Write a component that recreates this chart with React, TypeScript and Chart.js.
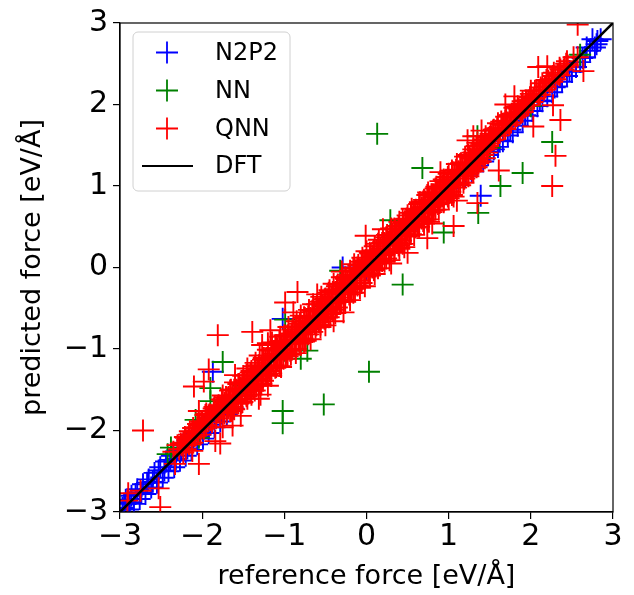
import React, { useEffect, useRef } from "react";
import { Chart, registerables } from "chart.js";

Chart.register(...registerables);

// ---------- data (reference force, predicted force) in eV/Å ----------
const axisRange = [-3, 3];
const tickValues = [-3, -2, -1, 0, 1, 2, 3];
const seriesNames = ["N2P2", "NN", "QNN", "DFT"];
const seriesColors = ["#0000ff", "#008000", "#ff0000", "#000000"];

const n2p2Points: [number, number][] = [
  [-2.97, -2.95], [-2.93, -2.85], [-2.9, -2.97], [-2.86, -2.8], [-2.83, -2.9], [-2.79, -2.72],
  [-2.76, -2.84], [-2.72, -2.66], [-2.69, -2.78], [-2.65, -2.6], [-2.62, -2.7], [-2.58, -2.52],
  [-2.55, -2.64], [-2.51, -2.45], [-2.48, -2.58], [-2.44, -2.38], [-2.41, -2.5], [-2.37, -2.31],
  [-2.34, -2.45], [-2.3, -2.24], [-2.27, -2.37], [-2.23, -2.17], [-2.2, -2.31], [-2.16, -2.1],
  [-2.13, -2.24], [-2.09, -2.03], [-2.06, -2.17], [-2.02, -1.97], [-1.99, -2.1], [-1.95, -1.9],
  [-1.92, -2.03], [-1.88, -1.84], [-1.85, -1.96], [-1.81, -1.77], [-1.78, -1.89], [-1.74, -1.7],
  [-1.7, -1.8], [-1.66, -1.62], [-1.62, -1.73], [-1.87, -1.28], [-1.02, -0.63], [-0.29, 0.0],
  [-2.95, -2.9], [-2.88, -2.88], [-2.81, -2.78], [-2.74, -2.76], [-2.67, -2.64], [-2.6, -2.63],
  [-2.53, -2.49], [-2.46, -2.49], [-2.39, -2.36], [-2.32, -2.35], [-2.25, -2.21], [-2.18, -2.22],
  [-2.11, -2.08], [-2.04, -2.07], [-1.97, -1.95], [-1.9, -1.93], [-1.83, -1.81], [-1.76, -1.79],
  [-1.2, -1.22], [-0.6, -0.62], [0.0, -0.03], [0.6, 0.57], [1.0, 0.97],
  [1.2, 1.12], [1.28, 1.18], [1.35, 1.25], [1.39, 0.88], [1.42, 1.3], [1.48, 1.38],
  [1.55, 1.45], [1.6, 1.48], [1.66, 1.55], [1.72, 1.62], [1.78, 1.66], [1.84, 1.74],
  [1.9, 1.8], [1.96, 1.86], [2.02, 1.92], [2.08, 1.98], [2.14, 2.04], [2.2, 2.1],
  [2.26, 2.15], [2.32, 2.22], [2.38, 2.28], [2.44, 2.35], [2.5, 2.4], [2.55, 2.46],
  [2.6, 2.52], [2.66, 2.58], [2.72, 2.66], [2.78, 2.7], [2.81, 2.78], [2.85, 2.8],
  [2.75, 2.8], [2.68, 2.7], [2.36, 2.35], [1.87, 1.89], [1.62, 1.56], [1.75, 1.69],
  [1.93, 1.87], [2.11, 2.05], [2.29, 2.21], [2.47, 2.41], [2.63, 2.57], [2.8, 2.74],
  [1.4, 1.34], [1.5, 1.42],
];

const nnPoints: [number, number][] = [
  [0.13, 1.64], [0.68, 1.22], [1.9, 1.16], [1.63, 1.0], [2.26, 1.54], [1.36, 0.67],
  [0.94, 0.43], [2.6, 2.61], [1.35, 1.61], [0.44, -0.21], [0.03, -1.28], [-0.52, -1.68],
  [-1.02, -1.76], [-1.02, -1.91], [-0.72, -1.02], [-0.8, -1.12], [-1.75, -1.16], [-1.9, -1.48],
  [-1.9, -1.64], [-2.08, -1.87], [-2.38, -2.21], [-2.04, -2.09], [-0.99, -0.64], [0.29, 0.58],
  [-0.32, -0.04], [-2.42, -2.29], [-1.5, -1.45], [-0.5, -0.48], [0.5, 0.52], [1.5, 1.47],
  [2.0, 1.98], [-1.0, -1.02],
];

const qnnUpper: [number, number][] = [
  [-2.35, -2.26], [-2.3, -2.18], [-2.25, -2.18], [-2.2, -2.09], [-2.15, -2.01], [-2.1, -2.02],
  [-2.05, -1.92], [-2.0, -1.9], [-1.95, -1.79], [-1.9, -1.81], [-1.85, -1.71], [-1.8, -1.69],
  [-1.75, -1.57], [-1.7, -1.6], [-1.65, -1.5], [-1.6, -1.41], [-1.55, -1.43], [-1.5, -1.33],
  [-1.45, -1.24], [-1.4, -1.27], [-1.35, -1.17], [-1.3, -1.08], [-1.25, -1.11], [-1.2, -1.01],
  [-1.15, -0.92], [-1.1, -0.95], [-1.05, -0.85], [-1.0, -0.83], [-0.95, -0.73], [-0.9, -0.76],
  [-0.85, -0.66], [-0.8, -0.59], [-0.75, -0.62], [-0.7, -0.52], [-0.65, -0.45], [-0.6, -0.45],
  [-0.55, -0.36], [-0.5, -0.38], [-0.45, -0.28], [-0.4, -0.2], [-0.35, -0.21], [-0.3, -0.12],
  [-0.25, -0.14], [-0.2, -0.04], [-0.15, 0.04], [-0.1, 0.03], [-0.05, 0.12], [0.0, 0.2],
  [0.05, 0.17], [0.1, 0.26], [0.15, 0.34], [0.2, 0.31], [0.25, 0.4], [0.3, 0.48],
  [0.35, 0.47], [0.4, 0.56], [0.45, 0.55], [0.5, 0.64], [0.55, 0.72], [0.6, 0.71],
  [0.65, 0.8], [0.7, 0.83], [0.75, 0.92], [0.8, 0.9], [0.85, 0.99], [0.9, 1.06],
  [0.95, 1.06], [1.0, 1.15], [1.05, 1.17], [1.1, 1.27], [1.15, 1.28], [1.2, 1.36],
  [1.25, 1.36], [1.3, 1.45], [1.35, 1.53], [1.4, 1.52], [1.45, 1.61], [1.5, 1.6],
  [1.55, 1.69], [1.6, 1.77], [1.65, 1.76], [1.7, 1.85], [1.75, 1.87], [1.8, 1.96],
  [1.85, 1.95], [1.9, 2.04], [1.95, 2.04], [2.0, 2.13], [2.07, 2.17], [2.14, 2.26],
  [2.21, 2.29], [2.28, 2.39], [2.36, 2.43], [2.44, 2.53], [2.52, 2.58],
];

const qnnUpperMid: [number, number][] = [
  [-2.26, -2.16], [-2.21, -2.08], [-2.16, -2.05], [-2.11, -1.97], [-2.06, -1.96], [-2.01, -1.89],
  [-1.96, -1.81], [-1.91, -1.8], [-1.86, -1.73], [-1.81, -1.71], [-1.76, -1.62], [-1.71, -1.59],
  [-1.66, -1.51], [-1.61, -1.5], [-1.56, -1.43], [-1.51, -1.41], [-1.46, -1.32], [-1.41, -1.29],
  [-1.36, -1.21], [-1.31, -1.2], [-1.26, -1.13], [-1.21, -1.11], [-1.16, -1.02], [-1.11, -0.99],
  [-1.06, -0.91], [-1.01, -0.9], [-0.96, -0.83], [-0.91, -0.81], [-0.86, -0.72], [-0.81, -0.69],
  [-0.76, -0.61], [-0.71, -0.6], [-0.66, -0.53], [-0.61, -0.51], [-0.56, -0.42], [-0.51, -0.39],
  [-0.46, -0.31], [-0.41, -0.3], [-0.36, -0.23], [-0.31, -0.21], [-0.26, -0.12], [-0.21, -0.09],
  [-0.16, -0.01], [-0.11, 0.0], [-0.06, 0.07], [-0.01, 0.09], [0.04, 0.18], [0.09, 0.21],
  [0.14, 0.29], [0.19, 0.3], [0.24, 0.37], [0.29, 0.39], [0.34, 0.48], [0.39, 0.51],
  [0.44, 0.59], [0.49, 0.6], [0.54, 0.67], [0.59, 0.69], [0.64, 0.78], [0.69, 0.81],
  [0.74, 0.89], [0.79, 0.9], [0.84, 0.97], [0.89, 0.99], [0.94, 1.08], [0.99, 1.11],
  [1.04, 1.19], [1.09, 1.2], [1.14, 1.27], [1.19, 1.29], [1.24, 1.38], [1.29, 1.41],
  [1.34, 1.49], [1.39, 1.5], [1.44, 1.57], [1.49, 1.59], [1.54, 1.68], [1.59, 1.71],
  [1.64, 1.79], [1.69, 1.8], [1.74, 1.87], [1.79, 1.89], [1.84, 1.98], [1.89, 2.01],
  [1.94, 2.05], [1.99, 2.09], [2.05, 2.17], [2.12, 2.21], [2.19, 2.3], [2.27, 2.35],
  [2.35, 2.45], [2.43, 2.5],
];

const qnnUpperInner: [number, number][] = [
  [-2.28, -2.23], [-2.23, -2.15], [-2.18, -2.12], [-2.13, -2.09], [-2.08, -2.01], [-2.03, -1.94],
  [-1.98, -1.93], [-1.93, -1.85], [-1.88, -1.82], [-1.83, -1.74], [-1.78, -1.73], [-1.73, -1.66],
  [-1.68, -1.59], [-1.63, -1.57], [-1.58, -1.5], [-1.53, -1.48], [-1.48, -1.39], [-1.43, -1.36],
  [-1.38, -1.33], [-1.33, -1.25], [-1.28, -1.22], [-1.23, -1.14], [-1.18, -1.13], [-1.13, -1.06],
  [-1.08, -0.99], [-1.03, -0.97], [-0.98, -0.9], [-0.93, -0.88], [-0.88, -0.79], [-0.83, -0.76],
  [-0.78, -0.73], [-0.73, -0.65], [-0.68, -0.62], [-0.63, -0.54], [-0.58, -0.53], [-0.53, -0.46],
  [-0.48, -0.39], [-0.43, -0.37], [-0.38, -0.3], [-0.33, -0.28], [-0.28, -0.19], [-0.23, -0.16],
  [-0.18, -0.13], [-0.13, -0.05], [-0.08, -0.02], [-0.03, 0.06], [0.02, 0.07], [0.07, 0.14],
  [0.12, 0.21], [0.17, 0.23], [0.22, 0.3], [0.27, 0.32], [0.32, 0.41], [0.37, 0.44],
  [0.42, 0.47], [0.47, 0.55], [0.52, 0.58], [0.57, 0.66], [0.62, 0.67], [0.67, 0.74],
  [0.72, 0.81], [0.77, 0.83], [0.82, 0.9], [0.87, 0.92], [0.92, 1.01], [0.97, 1.04],
  [1.02, 1.07], [1.07, 1.15], [1.12, 1.18], [1.17, 1.26], [1.22, 1.27], [1.27, 1.34],
  [1.32, 1.41], [1.37, 1.43], [1.42, 1.5], [1.47, 1.52], [1.52, 1.61], [1.57, 1.64],
  [1.62, 1.67], [1.67, 1.75], [1.72, 1.78], [1.77, 1.86], [1.82, 1.87], [1.87, 1.94],
  [1.92, 1.98], [1.97, 2.05], [2.03, 2.08], [2.1, 2.17], [2.17, 2.22], [2.25, 2.31],
  [2.33, 2.37], [2.41, 2.46],
];

const qnnMiddle: [number, number][] = [
  [-2.2, -2.18], [-2.12, -2.15], [-2.05, -2.01], [-1.98, -1.98], [-1.9, -1.87], [-1.83, -1.85],
  [-1.76, -1.71], [-1.69, -1.68], [-1.62, -1.66], [-1.55, -1.52], [-1.48, -1.49], [-1.41, -1.37],
  [-1.34, -1.37], [-1.27, -1.25], [-1.2, -1.24], [-1.13, -1.1], [-1.06, -1.08], [-0.99, -0.94],
  [-0.92, -0.93], [-0.85, -0.82], [-0.78, -0.82], [-0.71, -0.69], [-0.64, -0.67], [-0.57, -0.53],
  [-0.5, -0.52], [-0.43, -0.4], [-0.36, -0.4], [-0.29, -0.28], [-0.22, -0.25], [-0.15, -0.11],
  [-0.08, -0.1], [-0.01, 0.02], [0.06, 0.02], [0.13, 0.15], [0.2, 0.17], [0.27, 0.31],
  [0.34, 0.33], [0.41, 0.44], [0.48, 0.44], [0.55, 0.57], [0.62, 0.59], [0.69, 0.73],
  [0.76, 0.74], [0.83, 0.86], [0.9, 0.86], [0.97, 0.98], [1.04, 1.01], [1.11, 1.15],
  [1.18, 1.16], [1.25, 1.28], [1.32, 1.31], [1.39, 1.43], [1.46, 1.46], [1.53, 1.56],
  [1.6, 1.62], [1.67, 1.71], [1.74, 1.75], [1.81, 1.84], [1.88, 1.9], [1.95, 1.99],
  [2.02, 2.03], [2.09, 2.12], [2.16, 2.18], [2.23, 2.27], [2.3, 2.31], [2.4, 2.43],
];

const qnnMiddle2: [number, number][] = [
  [-2.16, -2.17], [-2.09, -2.07], [-2.02, -2.05], [-1.95, -1.94], [-1.88, -1.9], [-1.81, -1.78],
  [-1.74, -1.75], [-1.67, -1.65], [-1.6, -1.63], [-1.53, -1.52], [-1.46, -1.48], [-1.39, -1.36],
  [-1.32, -1.33], [-1.25, -1.23], [-1.18, -1.21], [-1.11, -1.1], [-1.04, -1.06], [-0.97, -0.94],
  [-0.9, -0.91], [-0.83, -0.81], [-0.76, -0.79], [-0.69, -0.68], [-0.62, -0.64], [-0.55, -0.52],
  [-0.48, -0.49], [-0.41, -0.39], [-0.34, -0.37], [-0.27, -0.26], [-0.2, -0.22], [-0.13, -0.1],
  [-0.06, -0.07], [0.01, 0.03], [0.08, 0.05], [0.15, 0.16], [0.22, 0.2], [0.29, 0.32],
  [0.36, 0.35], [0.43, 0.45], [0.5, 0.47], [0.57, 0.58], [0.64, 0.62], [0.71, 0.74],
  [0.78, 0.77], [0.85, 0.87], [0.92, 0.89], [0.99, 1.0], [1.06, 1.04], [1.13, 1.16],
  [1.2, 1.19], [1.27, 1.29], [1.34, 1.33], [1.41, 1.44], [1.48, 1.49], [1.55, 1.57],
  [1.62, 1.65], [1.69, 1.7], [1.76, 1.78], [1.83, 1.86], [1.9, 1.91], [1.97, 1.99],
  [2.04, 2.07], [2.11, 2.12], [2.18, 2.21], [2.26, 2.28], [2.35, 2.36], [2.45, 2.48],
];

const qnnLowerInner: [number, number][] = [
  [-1.78, -1.82], [-1.73, -1.79], [-1.68, -1.73], [-1.63, -1.71], [-1.58, -1.64], [-1.53, -1.62],
  [-1.48, -1.53], [-1.43, -1.5], [-1.38, -1.47], [-1.33, -1.39], [-1.28, -1.36], [-1.23, -1.28],
  [-1.18, -1.27], [-1.13, -1.2], [-1.08, -1.13], [-1.03, -1.11], [-0.98, -1.04], [-0.93, -1.02],
  [-0.88, -0.93], [-0.83, -0.9], [-0.78, -0.87], [-0.73, -0.79], [-0.68, -0.76], [-0.63, -0.68],
  [-0.58, -0.67], [-0.53, -0.6], [-0.48, -0.53], [-0.43, -0.51], [-0.38, -0.44], [-0.33, -0.42],
  [-0.28, -0.33], [-0.23, -0.3], [-0.18, -0.27], [-0.13, -0.19], [-0.08, -0.16], [-0.03, -0.08],
  [0.02, -0.07], [0.07, 0.0], [0.12, 0.07], [0.17, 0.09], [0.22, 0.16], [0.27, 0.18],
  [0.32, 0.27], [0.37, 0.3], [0.42, 0.33], [0.47, 0.41], [0.52, 0.44], [0.57, 0.52],
  [0.62, 0.53], [0.67, 0.6], [0.72, 0.67], [0.77, 0.69], [0.82, 0.76], [0.87, 0.78],
  [0.92, 0.87], [0.97, 0.9], [1.02, 0.93], [1.07, 1.01], [1.12, 1.04], [1.17, 1.12],
  [1.22, 1.15], [1.27, 1.21], [1.32, 1.27], [1.37, 1.3], [1.42, 1.38], [1.47, 1.41],
];

const qnnLowerMid: [number, number][] = [
  [-1.66, -1.76], [-1.61, -1.74], [-1.56, -1.67], [-1.51, -1.65], [-1.46, -1.58], [-1.41, -1.51],
  [-1.36, -1.51], [-1.31, -1.42], [-1.26, -1.39], [-1.21, -1.31], [-1.16, -1.3], [-1.11, -1.23],
  [-1.06, -1.21], [-1.01, -1.12], [-0.96, -1.09], [-0.91, -1.01], [-0.86, -1.0], [-0.81, -0.93],
  [-0.76, -0.91], [-0.71, -0.82], [-0.66, -0.79], [-0.61, -0.71], [-0.56, -0.7], [-0.51, -0.63],
  [-0.46, -0.61], [-0.41, -0.52], [-0.36, -0.49], [-0.31, -0.41], [-0.26, -0.4], [-0.21, -0.33],
  [-0.16, -0.31], [-0.11, -0.22], [-0.06, -0.19], [-0.01, -0.11], [0.04, -0.1], [0.09, -0.03],
  [0.14, -0.01], [0.19, 0.08], [0.24, 0.11], [0.29, 0.19], [0.34, 0.2], [0.39, 0.27],
  [0.44, 0.29], [0.49, 0.38], [0.54, 0.41], [0.59, 0.49], [0.64, 0.5], [0.69, 0.57],
  [0.74, 0.59], [0.79, 0.68], [0.84, 0.71], [0.89, 0.79], [0.94, 0.8], [0.99, 0.87],
  [1.04, 0.89], [1.09, 0.98], [1.14, 1.01], [1.19, 1.09], [1.24, 1.12], [1.29, 1.19],
  [1.34, 1.23], [1.39, 1.3], [1.44, 1.34],
];

const qnnLower: [number, number][] = [
  [-1.7, -1.78], [-1.64, -1.76], [-1.58, -1.67], [-1.52, -1.66], [-1.46, -1.56], [-1.4, -1.56],
  [-1.34, -1.45], [-1.28, -1.43], [-1.22, -1.31], [-1.16, -1.33], [-1.1, -1.22], [-1.04, -1.22],
  [-0.98, -1.08], [-0.92, -1.07], [-0.86, -1.05], [-0.8, -0.91], [-0.74, -0.9], [-0.68, -0.88],
  [-0.62, -0.74], [-0.56, -0.73], [-0.5, -0.71], [-0.44, -0.57], [-0.38, -0.56], [-0.32, -0.42],
  [-0.26, -0.42], [-0.2, -0.4], [-0.14, -0.26], [-0.08, -0.25], [-0.02, -0.23], [0.04, -0.09],
  [0.1, -0.08], [0.16, 0.06], [0.22, 0.07], [0.28, 0.09], [0.34, 0.22], [0.4, 0.23],
  [0.46, 0.25], [0.52, 0.39], [0.58, 0.4], [0.64, 0.54], [0.7, 0.54], [0.76, 0.56],
  [0.82, 0.7], [0.88, 0.71], [0.94, 0.83], [1.0, 0.85], [1.06, 0.87], [1.12, 1.02],
  [1.18, 1.04], [1.24, 1.15], [1.3, 1.18], [1.36, 1.28],
];

const qnnOutliers: [number, number][] = [
  [-2.72, -2.0], [-1.81, -0.83], [-1.39, -0.79], [-0.84, -0.3], [-0.99, -0.43], [-2.1, -1.46],
  [-1.98, -1.4], [-2.04, -1.76], [-1.75, -1.96], [-1.63, -1.94], [-1.78, -2.16], [-2.04, -2.41],
  [-2.23, -2.27], [-1.53, -1.82], [-1.45, -1.61], [-1.31, -1.61], [-1.27, -0.95], [-1.17, -0.77],
  [-1.92, -1.25], [-1.29, -1.56], [-1.84, -2.13], [-2.33, -2.41], [-2.9, -2.77], [-2.53, -2.71],
  [-2.51, -2.94], [-2.75, -2.74], [-2.91, -2.86], [-2.12, -2.25], [-2.2, -2.23],
  [2.57, 2.98], [2.2, 2.47], [2.09, 2.46], [2.64, 2.41], [1.69, 2.0], [2.0, 2.17],
  [2.27, 1.99], [2.36, 1.81], [2.3, 1.37], [2.26, 1.0], [1.61, 1.19], [1.51, 1.64],
  [2.03, 1.73], [1.3, 1.61], [1.35, 0.79], [1.06, 0.51], [1.23, 1.56], [2.57, 2.58],
  [-0.01, 0.39], [-0.89, -0.55], [0.74, 0.36], [-0.28, -0.55], [0.5, 0.18],
  [-1.6, -1.32], [-1.2, -0.93], [-0.6, -0.33], [0.2, 0.47], [0.9, 1.17], [1.4, 1.68],
  [1.8, 2.1], [-0.3, -0.05], [-1.2, -1.45], [-0.4, -0.66], [0.3, 0.05], [0.8, 0.54], [1.1, 0.82],
];

const dftRef = [-3, 3];
const dftPred = [-3, 3];

const FONT = "'DejaVu Sans', sans-serif";

function toXY(pts: [number, number][]) {
  return pts.map(([x, y]) => ({ x, y }));
}

const frameAndLegend = {
  id: "frameAndLegend",
  afterDraw(chart: any) {
    const { ctx, chartArea } = chart;
    ctx.save();
    ctx.strokeStyle = "#000";
    ctx.lineWidth = 1.2;
    ctx.strokeRect(chartArea.left, chartArea.top, chartArea.right - chartArea.left, chartArea.bottom - chartArea.top);

    const bx = 133, by = 32, bw = 157, bh = 159, r = 5;
    ctx.beginPath();
    ctx.moveTo(bx + r, by);
    ctx.arcTo(bx + bw, by, bx + bw, by + bh, r);
    ctx.arcTo(bx + bw, by + bh, bx, by + bh, r);
    ctx.arcTo(bx, by + bh, bx, by, r);
    ctx.arcTo(bx, by, bx + bw, by, r);
    ctx.closePath();
    ctx.fillStyle = "rgba(255,255,255,0.8)";
    ctx.fill();
    ctx.strokeStyle = "#d0d0d0";
    ctx.lineWidth = 1;
    ctx.stroke();

    const rows = [52.5, 90.5, 128.5, 166];
    ctx.font = `24px ${FONT}`;
    ctx.textBaseline = "middle";
    ctx.textAlign = "left";
    seriesNames.forEach((name, i) => {
      const y = rows[i];
      ctx.strokeStyle = seriesColors[i];
      ctx.lineWidth = 1.8;
      ctx.beginPath();
      if (i < 3) {
        ctx.moveTo(167 - 11, y);
        ctx.lineTo(167 + 11, y);
        ctx.moveTo(167, y - 11);
        ctx.lineTo(167, y + 11);
      } else {
        ctx.moveTo(142, y);
        ctx.lineTo(193, y);
      }
      ctx.stroke();
      ctx.fillStyle = "#000";
      ctx.fillText(name, 215, y + 1);
    });
    ctx.restore();
  },
};

export default function App() {
  const canvasRef = useRef<HTMLCanvasElement>(null);

  useEffect(() => {
    const canvas = canvasRef.current;
    if (!canvas) return;
    const markerStyle = (color: string, order: number) => ({
      pointStyle: "cross" as const,
      pointRadius: 11,
      pointHoverRadius: 11,
      borderColor: color,
      backgroundColor: color,
      pointBorderWidth: 1.9,
      borderWidth: 1.9,
      showLine: false,
      clip: 0,
      order,
    });
    const red = seriesColors[2];
    const chart = new Chart(canvas, {
      type: "scatter",
      data: {
        datasets: [
          {
            label: seriesNames[3],
            data: dftRef.map((x, i) => ({ x, y: dftPred[i] })),
            showLine: true,
            pointRadius: 0,
            borderColor: "#000",
            borderWidth: 2.6,
            clip: 0,
            order: 0,
          },
          { label: "QNN middle", data: toXY(qnnMiddle), ...markerStyle(red, 1) },
          { label: "QNN middle 2", data: toXY(qnnMiddle2), ...markerStyle(red, 2) },
          { label: "QNN upper inner", data: toXY(qnnUpperInner), ...markerStyle(red, 3) },
          { label: "QNN lower inner", data: toXY(qnnLowerInner), ...markerStyle(red, 4) },
          { label: "QNN upper mid", data: toXY(qnnUpperMid), ...markerStyle(red, 5) },
          { label: "QNN lower mid", data: toXY(qnnLowerMid), ...markerStyle(red, 6) },
          { label: "QNN lower", data: toXY(qnnLower), ...markerStyle(red, 7) },
          { label: "QNN upper", data: toXY(qnnUpper), ...markerStyle(red, 8) },
          { label: seriesNames[2], data: toXY(qnnOutliers), ...markerStyle(red, 9) },
          { label: seriesNames[1], data: toXY(nnPoints), ...markerStyle(seriesColors[1], 10) },
          { label: seriesNames[0], data: toXY(n2p2Points), ...markerStyle(seriesColors[0], 11) },
        ] as any,
      },
      options: {
        responsive: false,
        animation: false,
        events: [],
        layout: { padding: { top: 19, right: 21, left: 0, bottom: 0 } },
        plugins: { legend: { display: false }, tooltip: { enabled: false } },
        scales: {
          x: {
            type: "linear",
            min: axisRange[0],
            max: axisRange[1],
            afterBuildTicks: (s: any) => { s.ticks = tickValues.map((v) => ({ value: v })); },
            afterFit: (s: any) => { s.height = 83; },
            grid: { display: true, drawOnChartArea: false, drawTicks: true, tickLength: 7, color: "#000", lineWidth: 1.2 },
            border: { display: true, color: "#000", width: 1.2 },
            ticks: {
              color: "#000",
              font: { family: FONT, size: 30 },
              padding: 0,
              maxRotation: 0,
              callback: (v: any) => String(v).replace("-", "\u2212"),
            },
            title: {
              display: true,
              text: "reference force [eV/Å]",
              color: "#000",
              font: { family: FONT, size: 27 },
              padding: { top: 0, bottom: 2 },
            },
          },
          y: {
            type: "linear",
            min: axisRange[0],
            max: axisRange[1],
            afterBuildTicks: (s: any) => { s.ticks = tickValues.map((v) => ({ value: v })); },
            afterFit: (s: any) => { s.width = 120; },
            grid: { display: true, drawOnChartArea: false, drawTicks: true, tickLength: 7, color: "#000", lineWidth: 1.2 },
            border: { display: true, color: "#000", width: 1.2 },
            ticks: {
              color: "#000",
              font: { family: FONT, size: 30 },
              padding: 5,
              callback: (v: any) => String(v).replace("-", "\u2212"),
            },
            title: {
              display: true,
              text: "predicted force [eV/Å]",
              color: "#000",
              font: { family: FONT, size: 27 },
              padding: { top: 17, bottom: 0 },
            },
          },
        },
      },
      plugins: [frameAndLegend],
    });
    return () => chart.destroy();
  }, []);

  return (
    <div style={{ position: "fixed", left: 0, top: 0, width: 634, height: 595, background: "#fff" }}>
      <canvas ref={canvasRef} width={634} height={595} style={{ display: "block" }} />
    </div>
  );
}
